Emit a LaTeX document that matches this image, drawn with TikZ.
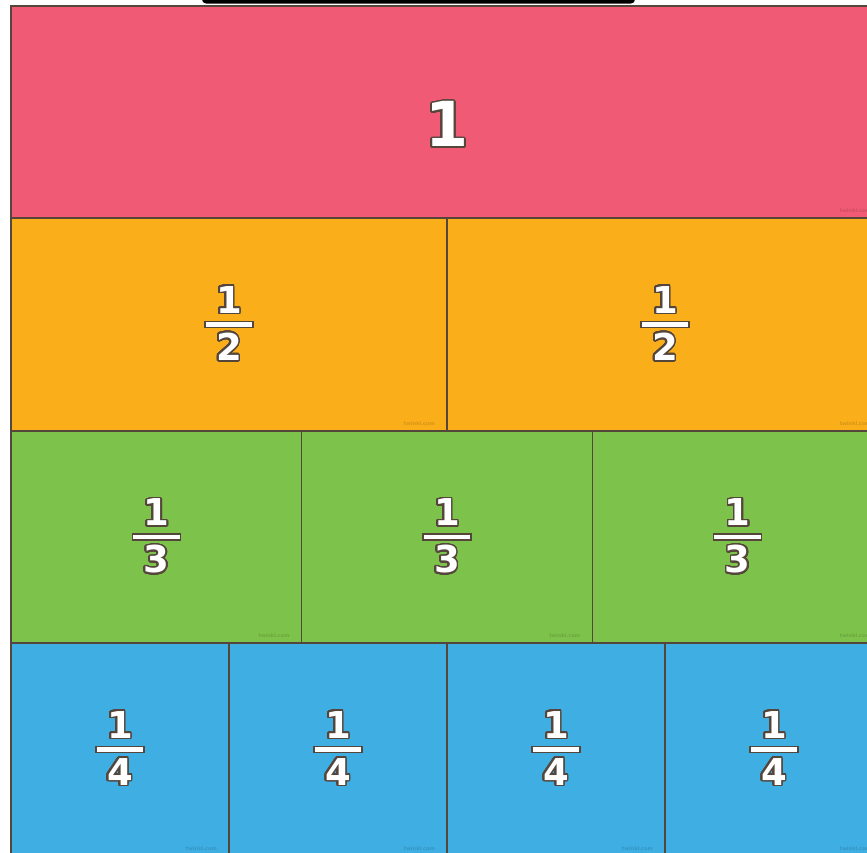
\documentclass[tikz,border=0pt]{standalone}
\usepackage{fontspec}
\setmainfont{DejaVu Sans}
\usepackage{contour}
\contourlength{1.6pt}
\contournumber{32}
\definecolor{cred}{RGB}{240,90,116}
\definecolor{corange}{RGB}{249,174,26}
\definecolor{cgreen}{RGB}{125,194,74}
\definecolor{cblue}{RGB}{62,174,227}
\definecolor{cline}{RGB}{85,70,60}
\tikzset{
  cellbox/.style={draw=cline, line width=1.2pt},
  bignum/.style={font=\fontsize{62}{62}\selectfont\bfseries, inner sep=0pt},
  fracnum/.style={font=\fontsize{37}{37}\selectfont\bfseries, inner sep=0pt},
  fracbar/.style={fill=white, draw=cline, line width=1.2pt},
  wmark/.style={font=\fontsize{5}{5}\selectfont\bfseries, anchor=south east, inner sep=0pt, opacity=0.35}
}
\newcommand{\outl}[1]{\contour{cline}{\textcolor{white}{#1}}}
\begin{document}
\begin{tikzpicture}[x=1pt,y=-1pt]
\useasboundingbox (0,0) rectangle (867,852);
\fill[white] (0,0) rectangle (867,852);
\clip (0,0) rectangle (867,852);
% top black bar
\fill[black, rounded corners=4pt] (202,-12) rectangle (635,3.5);
% row 1
\draw[cellbox, fill=cred] (11,6) rectangle (883,218);
\node[bignum] (one) at (447,125) {\outl{1}};
\node[wmark, text=cred!60!black] (w1) at (871,213) {twinkl.com};
% rows 2-4
\foreach \n/\top/\bot/\col in {2/218/431/corange, 3/431/643/cgreen, 4/643/856/cblue}{
  \pgfmathsetmacro{\w}{872/\n}
  \pgfmathsetmacro{\cy}{(\top+\bot)/2}
  \pgfmathtruncatemacro{\last}{\n-1}
  \foreach \i in {0,...,\last}{
    \pgfmathsetmacro{\xl}{11+\i*\w}
    \pgfmathsetmacro{\xr}{11+(\i+1)*\w}
    \pgfmathsetmacro{\cx}{(\xl+\xr)/2}
    \draw[cellbox, fill=\col] (\xl,\top) rectangle (\xr,\bot);
    \node[fracnum] (num\n\i) at (\cx,\cy-24) {\outl{1}};
    \draw[fracbar] (\cx-24,\cy-3) rectangle (\cx+24,\cy+3);
    \node[fracnum] (den\n\i) at (\cx,\cy+23) {\outl{\n}};
    \node[wmark, text=\col!60!black] (wm\n\i) at (\xr-12,\bot-5) {twinkl.com};
  }
}
\end{tikzpicture}
\end{document}
